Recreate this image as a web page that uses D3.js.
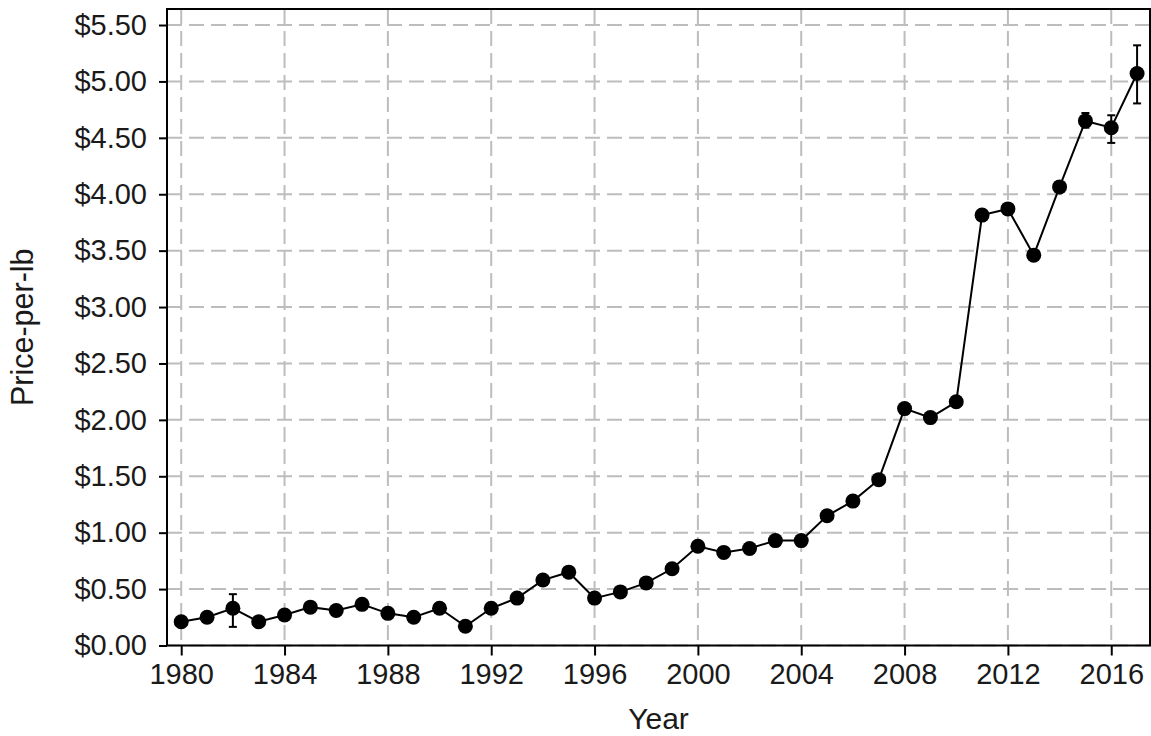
<!DOCTYPE html>
<html>
<head>
<meta charset="utf-8">
<script src="https://cdn.jsdelivr.net/npm/d3@7"></script>
<style>
  html, body { margin: 0; padding: 0; background: #fff; }
  svg { display: block; font-family: "Liberation Sans", Arial, sans-serif; }
</style>
</head>
<body>
<svg id="chart" width="1151" height="736"></svg>
<script>
// Annual average price per pound, 1980–2017
const years = [1980, 1981, 1982, 1983, 1984, 1985, 1986, 1987, 1988, 1989,
               1990, 1991, 1992, 1993, 1994, 1995, 1996, 1997, 1998, 1999,
               2000, 2001, 2002, 2003, 2004, 2005, 2006, 2007, 2008, 2009,
               2010, 2011, 2012, 2013, 2014, 2015, 2016, 2017];
const prices = [0.21, 0.25, 0.33, 0.21, 0.27, 0.34, 0.31, 0.365, 0.285, 0.25,
                0.33, 0.17, 0.33, 0.42, 0.58, 0.65, 0.42, 0.475, 0.555, 0.68,
                0.88, 0.825, 0.86, 0.93, 0.93, 1.15, 1.28, 1.47, 2.10, 2.02,
                2.16, 3.815, 3.87, 3.46, 4.065, 4.65, 4.59, 5.07];
// Error bar bounds (null where the interval is hidden by the marker)
const errLow  = [null, null, 0.165, null, null, null, null, null, null, null,
                 null, null, null, null, null, null, null, null, null, null,
                 null, null, null, null, null, null, null, null, null, null,
                 null, null, null, null, null, 4.59, 4.455, 4.805];
const errHigh = [null, null, 0.455, null, null, null, null, null, null, null,
                 null, null, null, null, null, null, null, null, null, null,
                 null, null, null, null, null, null, null, null, null, null,
                 null, null, null, null, null, 4.72, 4.70, 5.32];
const xTicks = [1980, 1984, 1988, 1992, 1996, 2000, 2004, 2008, 2012, 2016];
const yTicks = [0, 0.5, 1, 1.5, 2, 2.5, 3, 3.5, 4, 4.5, 5, 5.5];

const data = years.map((y, i) => ({
  year: y, price: prices[i], lo: errLow[i], hi: errHigh[i]
}));

const svg = d3.select("#chart");
const margin = { top: 9, right: 1, bottom: 90.5, left: 167 };
const width = 1151 - margin.left - margin.right;
const height = 736 - margin.top - margin.bottom;

const x = d3.scaleLinear().domain([1979.45, 2017.5]).range([0, width]);
const y = d3.scaleLinear().domain([0, 5.642]).range([height, 0]);

const g = svg.append("g").attr("transform", `translate(${margin.left},${margin.top})`);

// Dashed grid
const gridColor = "#bdbdbd";
g.append("g").selectAll("line.vg").data(xTicks).join("line")
  .attr("x1", d => x(d)).attr("x2", d => x(d))
  .attr("y1", 0).attr("y2", height)
  .attr("stroke", gridColor).attr("stroke-width", 2)
  .attr("stroke-dasharray", "15,7");
g.append("g").selectAll("line.hg").data(yTicks).join("line")
  .attr("x1", 0).attr("x2", width)
  .attr("y1", d => y(d)).attr("y2", d => y(d))
  .attr("stroke", gridColor).attr("stroke-width", 2)
  .attr("stroke-dasharray", "15,7");

// Axes
const fmt = d3.format("$.2f");
const xAxis = g.append("g").attr("transform", `translate(0,${height})`)
  .call(d3.axisBottom(x).tickValues(xTicks).tickFormat(d3.format("d"))
        .tickSize(10).tickPadding(8));
const yAxis = g.append("g")
  .call(d3.axisLeft(y).tickValues(yTicks).tickFormat(fmt)
        .tickSize(8).tickPadding(12));
[xAxis, yAxis].forEach(a => {
  a.select(".domain").remove();
  a.selectAll(".tick line").attr("stroke", "#000").attr("stroke-width", 2);
  a.selectAll(".tick text").attr("fill", "#1a1a1a")
    .style("font-size", "29px").style("font-family", "'Liberation Sans', Arial, sans-serif");
});

// Frame
g.append("rect").attr("x", 0).attr("y", 0).attr("width", width).attr("height", height)
  .attr("fill", "none").attr("stroke", "#000").attr("stroke-width", 2);

// Axis titles
svg.append("text")
  .attr("x", margin.left + width / 2).attr("y", 729)
  .attr("text-anchor", "middle").attr("fill", "#1a1a1a")
  .style("font-size", "30px").text("Year");
svg.append("text")
  .attr("transform", `translate(33,${margin.top + height / 2}) rotate(-90)`)
  .attr("text-anchor", "middle").attr("fill", "#1a1a1a")
  .style("font-size", "30.5px").text("Price-per-lb");

// Series line
g.append("path").datum(data)
  .attr("fill", "none").attr("stroke", "#000").attr("stroke-width", 2)
  .attr("d", d3.line().x(d => x(d.year)).y(d => y(d.price)));

// Error bars
const eb = g.append("g").selectAll("g").data(data.filter(d => d.lo != null)).join("g")
  .attr("stroke", "#000").attr("stroke-width", 2);
eb.append("line").attr("x1", d => x(d.year)).attr("x2", d => x(d.year))
  .attr("y1", d => y(d.lo)).attr("y2", d => y(d.hi));
eb.append("line").attr("x1", d => x(d.year) - 4).attr("x2", d => x(d.year) + 4)
  .attr("y1", d => y(d.lo)).attr("y2", d => y(d.lo));
eb.append("line").attr("x1", d => x(d.year) - 4).attr("x2", d => x(d.year) + 4)
  .attr("y1", d => y(d.hi)).attr("y2", d => y(d.hi));

// Markers
g.append("g").selectAll("circle").data(data).join("circle")
  .attr("cx", d => x(d.year)).attr("cy", d => y(d.price))
  .attr("r", 7.5).attr("fill", "#000");
</script>
</body>
</html>
